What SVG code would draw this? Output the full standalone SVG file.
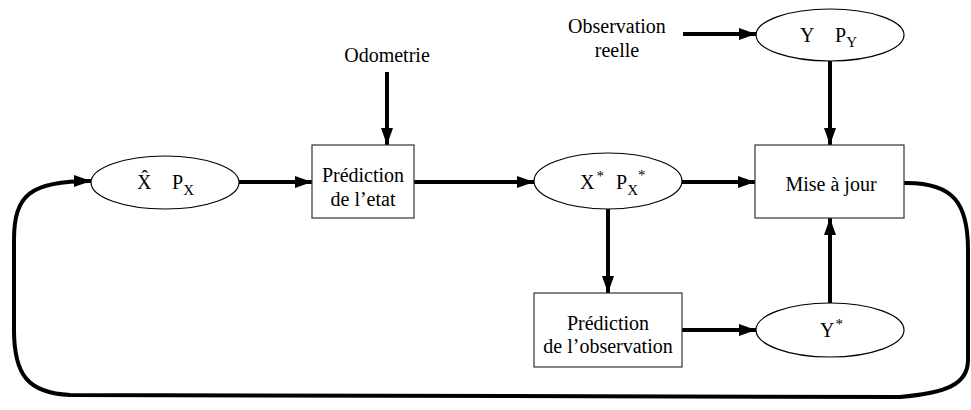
<svg xmlns="http://www.w3.org/2000/svg" width="971" height="410" viewBox="0 0 971 410">
<defs>
<marker id="ah" markerUnits="userSpaceOnUse" markerWidth="17" markerHeight="12" refX="17" refY="6" orient="auto"><path d="M0,0 L17,6 L0,12 z" fill="#000"/></marker>
</defs>
<style>
text{font-family:"Liberation Serif","Times New Roman",serif;font-size:20px;fill:#000}
.box{fill:#fff;stroke:#333;stroke-width:1.2}
.ell{fill:#fff;stroke:#000;stroke-width:1.2}
.c{fill:none;stroke:#000;stroke-width:4;marker-end:url(#ah)}
.m{text-anchor:middle}
.sub{font-size:15px}
</style>
<rect width="971" height="410" fill="#fff"/>
<g id="connectors">
<line class="c" x1="387" y1="72" x2="387" y2="145"/>
<line class="c" x1="239" y1="182" x2="312" y2="182"/>
<line class="c" x1="414" y1="182" x2="534" y2="182"/>
<line class="c" x1="682" y1="182" x2="755" y2="182"/>
<line class="c" x1="608" y1="209" x2="608" y2="293"/>
<line class="c" x1="682" y1="330" x2="756" y2="330"/>
<line class="c" x1="830" y1="303" x2="830" y2="218"/>
<line class="c" x1="830" y1="61" x2="830" y2="145"/>
<line class="c" x1="683" y1="34" x2="756" y2="34"/>
<path class="c" d="M904,183 C955,182 968,205 968,250 L968,360 C968,385 945,393 900,397 L70,395 C28,393 14,375 14,330 L14,240 C14,195 30,181 91,181"/>
</g>
<g id="odometrie"><text class="m" x="387" y="62">Odometrie</text></g>
<g id="obs-reelle"><text class="m" x="617" y="33">Observation</text><text class="m" x="617" y="57">reelle</text></g>
<g id="x-hat">
<ellipse class="ell" cx="165" cy="182.5" rx="74" ry="26.5"/>
<text x="137" y="189">X&#770;</text>
<text x="172" y="189">P<tspan class="sub" dy="6">X</tspan></text>
</g>
<g id="prediction-etat">
<rect class="box" x="312" y="145" width="102" height="73"/>
<text class="m" x="363" y="182">Prédiction</text><text class="m" x="363" y="206">de l’etat</text>
</g>
<g id="x-star">
<ellipse class="ell" cx="608" cy="181" rx="74" ry="28"/>
<text x="580" y="189">X<tspan class="sub" dx="2" dy="-8">*</tspan></text>
<text x="616" y="189">P<tspan class="sub" dy="6">X</tspan><tspan class="sub" dy="-15">*</tspan></text>
</g>
<g id="mise-a-jour">
<rect class="box" x="755" y="145" width="149" height="73"/>
<text class="m" x="831" y="191">Mise à jour</text>
</g>
<g id="y-py">
<ellipse class="ell" cx="830" cy="35" rx="74" ry="26"/>
<text x="800" y="42">Y</text>
<text x="835" y="42">P<tspan class="sub" dy="5">Y</tspan></text>
</g>
<g id="prediction-obs">
<rect class="box" x="534" y="293" width="148" height="74"/>
<text class="m" x="608" y="330">Prédiction</text><text class="m" x="608" y="353">de l’observation</text>
</g>
<g id="y-star">
<ellipse class="ell" cx="830" cy="330" rx="74" ry="27"/>
<text x="820" y="337">Y<tspan class="sub" dx="1" dy="-8">*</tspan></text>
</g>
</svg>
